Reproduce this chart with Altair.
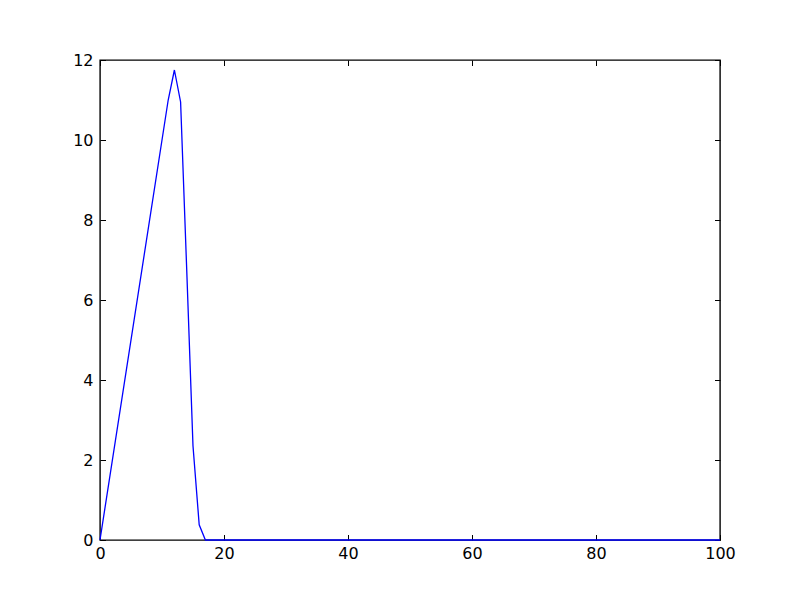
import altair as alt
import pandas as pd

# Data
x_vals = [0, 11, 12, 13, 14, 15, 16, 17, 100]
y_vals = [0, 11.0, 11.75, 10.95, 6.7, 2.35, 0.38, 0, 0]
x_ticks = [0, 20, 40, 60, 80, 100]
y_ticks = [0, 2, 4, 6, 8, 10, 12]

df = pd.DataFrame({"x": x_vals, "y": y_vals})

xs = alt.Scale(domain=[0, 100], nice=False, zero=False)
ys = alt.Scale(domain=[0, 12], nice=False, zero=False)

TL = 5.5


def mk_axis(orient, values, labels, pad):
    return alt.Axis(
        orient=orient,
        values=values,
        labels=labels,
        ticks=True,
        tickSize=TL,
        tickWidth=1,
        tickColor="black",
        offset=-TL,
        labelPadding=pad,
        labelFlush=False,
        labelOverlap=False,
        labelFont="DejaVu Sans",
        labelFontSize=16,
        labelColor="black",
        domain=False,
        grid=False,
        title=None,
    )


main = alt.Chart(df).mark_line(color="#0000ff", strokeWidth=1.3).encode(
    x=alt.X("x:Q", scale=xs, axis=mk_axis("bottom", x_ticks, True, 5)),
    y=alt.Y("y:Q", scale=ys, axis=mk_axis("left", y_ticks, True, 7)),
)

mirror = alt.Chart(df).mark_line(color="#0000ff", strokeOpacity=0).encode(
    x=alt.X("x:Q", scale=xs, axis=mk_axis("top", x_ticks, False, 0)),
    y=alt.Y("y:Q", scale=ys, axis=mk_axis("right", y_ticks, False, 0)),
)

chart = (
    alt.layer(main, mirror)
    .resolve_axis(x="independent", y="independent")
    .properties(
        width=620,
        height=480,
        autosize=alt.AutoSizeParams(type="none"),
        padding={"left": 92, "top": 52, "right": 72, "bottom": 52},
        background="white",
    )
    .configure_view(stroke="black", strokeWidth=1.4)
)

chart.save("out.html", embed_options={"renderer": "svg", "actions": False})
